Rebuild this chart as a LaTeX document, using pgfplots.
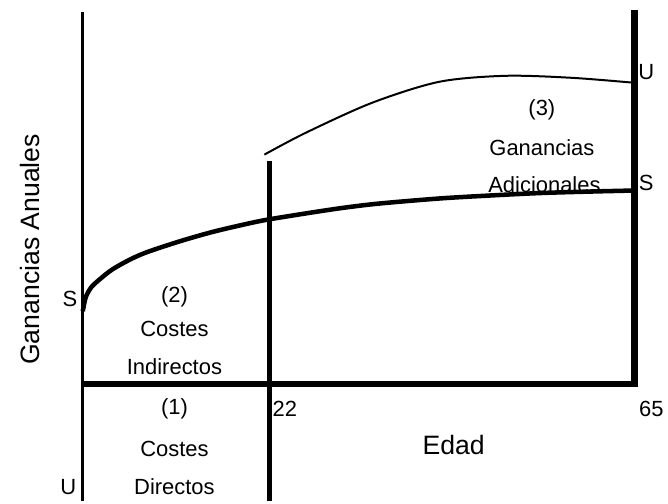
\documentclass[border=0pt]{standalone}
\usepackage{pgfplots}
\pgfplotsset{compat=1.18}
\usepackage{fontspec}
\setmainfont{Liberation Sans}

\begin{document}
\begin{tikzpicture}[font=\fontsize{16.5}{18}\selectfont]
\begin{axis}[
  scale only axis, width=501pt, height=376.5pt,
  xmin=-9.755, xmax=68.76, ymin=-11.7, ymax=38.5,
  axis lines=none, clip=false,
  ]
% marco invisible para el tamaño
\path (rel axis cs:0,0) rectangle (rel axis cs:1,1);
% ejes
\addplot[black, line width=2.2pt] coordinates {(0,37.3) (0,-11.7)};
\addplot[black, line width=4.8pt] coordinates {(-0.1,0) (65.2,0)};
\addplot[black, line width=4.2pt] coordinates {(22,22.4) (22,-11.7)};
\addplot[black, line width=4.8pt] coordinates {(65,37.5) (65,-0.28)};
% S
\addplot[black, line width=3.4pt, smooth] coordinates {
  (0,7.3) (0.35,8.7) (1.0,9.7) (2.0,10.5) (3.5,11.5) (5.5,12.45)
  (7.5,13.2) (11.4,14.3) (15.3,15.25) (19.3,16.05) (21.9,16.5)
  (27,17.2) (31,17.7) (35,18.1) (42,18.6) (48,18.9) (54,19.15)
  (60,19.3) (65,19.4)};
% U
\addplot[black, line width=1.5pt, smooth] coordinates {
  (21.4,23.0) (26.3,25.2) (34.1,28.2) (42.0,30.3) (49.8,30.9)
  (57.6,30.7) (65,30.2)};
% etiquetas
\node[rotate=90, font=\fontsize{20}{22}\selectfont] at (axis cs:-6.2,13.5) {Ganancias Anuales};
\node[font=\fontsize{20}{22}\selectfont] at (axis cs:43.7,-6.1) {Edad};
\node at (axis cs:23.8,-2.5) {22};
\node at (axis cs:67.0,-2.5) {65};
\node at (axis cs:-1.5,8.5) {S};
\node at (axis cs:-1.7,-10.3) {U};
\node at (axis cs:66.4,31.3) {U};
\node at (axis cs:66.4,20.2) {S};
\node at (axis cs:10.8,-2.5) {(1)};
\node at (axis cs:10.8,-6.5) {Costes};
\node at (axis cs:10.8,-10.3) {Directos};
\node at (axis cs:10.8,8.7) {(2)};
\node at (axis cs:10.8,5.5) {Costes};
\node at (axis cs:10.8,1.7) {Indirectos};
\node at (axis cs:54.1,27.5) {(3)};
\node at (axis cs:54.1,23.7) {Ganancias};
\node at (axis cs:54.4,20.0) {Adicionales};
\end{axis}
\end{tikzpicture}
\end{document}
